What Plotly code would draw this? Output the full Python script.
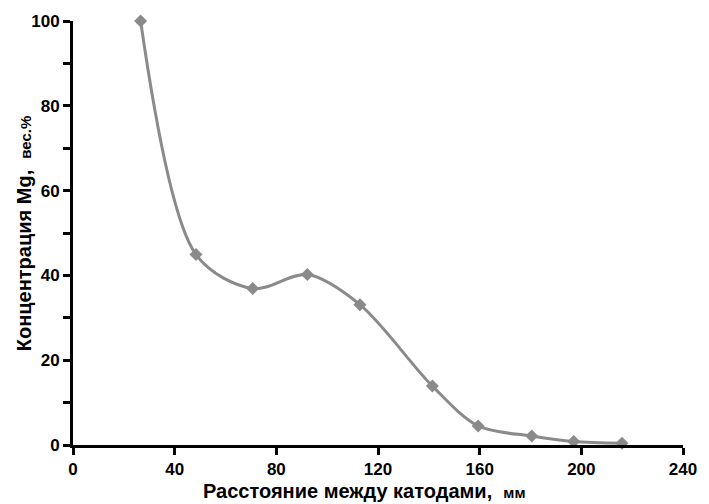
import plotly.graph_objects as go

distance_mm = [26.6, 48.4, 70.7, 92.2, 112.9, 141.4, 159.4, 180.5, 197.0, 216.0]
mg_conc = [100.0, 44.9, 36.9, 40.2, 33.1, 13.9, 4.5, 2.1, 0.8, 0.4]

x_ticks = [0, 40, 80, 120, 160, 200, 240]
y_ticks = [0, 10, 20, 30, 40, 50, 60, 70, 80, 90, 100]
y_ticktext = ["0", "", "20", "", "40", "", "60", "", "80", "", "100"]

FONT = "Liberation Sans, Arial, sans-serif"

fig = go.Figure()
fig.add_trace(go.Scatter(
    x=distance_mm, y=mg_conc, mode="lines+markers",
    line=dict(color="#8a8a8a", width=3, shape="spline", smoothing=0.9),
    marker=dict(symbol="diamond", size=10, color="#8a8a8a"),
    cliponaxis=False, showlegend=False,
))

axis_common = dict(
    showline=True, linecolor="black", linewidth=3,
    ticks="outside", ticklen=7, tickwidth=3, tickcolor="black",
    showgrid=False, zeroline=False,
    tickfont=dict(family=FONT, size=17, color="black", weight="bold"),
)

fig.update_xaxes(range=[0, 240], tickvals=x_ticks, **axis_common)
fig.update_yaxes(range=[0, 100], tickvals=y_ticks, ticktext=y_ticktext, **axis_common)

fig.update_layout(
    width=709, height=504,
    margin=dict(l=73, r=22, t=19.5, b=59),
    plot_bgcolor="white", paper_bgcolor="white",
    annotations=[
        dict(text="<b>Расстояние между катодами,&nbsp; <span style='font-size:15px'>мм</span></b>",
             xref="paper", yref="paper", x=0.478, y=-0.108,
             xanchor="center", yanchor="middle", showarrow=False,
             font=dict(family=FONT, size=20, color="black")),
        dict(text="<b>Концентрация Mg,&nbsp; <span style='font-size:15px'>вес.%</span></b>",
             xref="paper", yref="paper", x=-0.08, y=0.5,
             xanchor="center", yanchor="middle", showarrow=False, textangle=-90,
             font=dict(family=FONT, size=20, color="black")),
    ],
)

fig.write_html("out.html")
